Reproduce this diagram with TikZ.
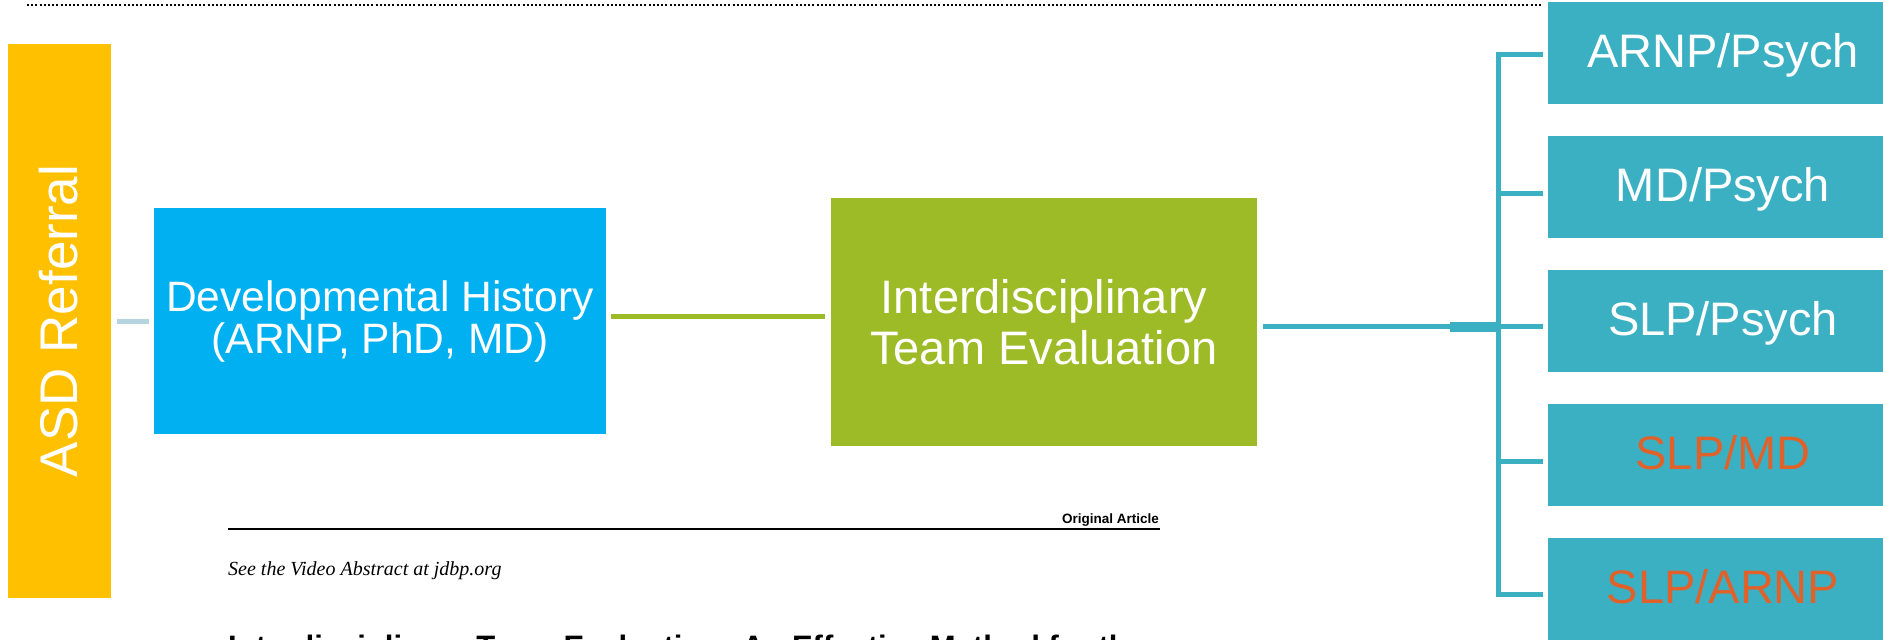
\documentclass[tikz,border=0pt]{standalone}
\usepackage{fontspec}
\setmainfont{Liberation Sans}
\newfontfamily\serifit{Liberation Serif}
\usetikzlibrary{calc}
\definecolor{asdyellow}{HTML}{FFC000}
\definecolor{devblue}{HTML}{00B0F0}
\definecolor{evalgreen}{HTML}{9DBB26}
\definecolor{teamteal}{HTML}{3BB0C3}
\definecolor{slporange}{HTML}{E0622A}
\definecolor{lightconn}{HTML}{B5D5DE}
\begin{document}
\begin{tikzpicture}[x=1pt,y=-1pt,
  panel/.style={draw=none, inner sep=0pt, outer sep=0pt, text=white, align=center},
  teambox/.style={panel, fill=teamteal, minimum width=350pt, minimum height=102pt,
    font=\fontsize{47}{50}\selectfont, text height=34pt, text depth=6pt},
  orangetext/.style={text=slporange},
  tealconn/.style={draw=teamteal, line width=5pt},
  greenconn/.style={draw=evalgreen, line width=5pt},
  paleconn/.style={draw=lightconn, line width=5pt},
  dotline/.style={draw=black, line width=2pt, dash pattern=on 2pt off 2.2pt}]
\useasboundingbox (0,0) rectangle (1883,640);
\clip (0,0) rectangle (1883,640);
\fill[white] (0,0) rectangle (1883,640);

% dotted rule at the top
\draw[dotline] (27,5) coordinate (d0) -- (1542,5) coordinate (d1);

% main boxes
\node[panel, fill=asdyellow, rotate=90, minimum width=554pt, minimum height=103pt,
  font=\fontsize{53}{60}\selectfont, text height=38pt, text depth=3pt] (asd) at (59.5,321) {ASD Referral};
\node[panel, fill=devblue, minimum width=452pt, minimum height=226pt,
  font=\fontsize{42.5}{42}\selectfont] (dev) at (380,321) {Developmental History\\(ARNP, PhD, MD)};
\node[panel, fill=evalgreen, minimum width=426pt, minimum height=248pt,
  font=\fontsize{47}{51}\selectfont] (eval) at (1044,322) {Interdisciplinary\\Team Evaluation};

% team boxes
\node[teambox] (r1) at (1723,53) {ARNP/Psych};
\node[teambox] (r2) at (1723,187) {MD/Psych};
\node[teambox] (r3) at (1723,321) {SLP/Psych};
\node[teambox, orangetext] (r4) at (1723,455) {SLP/MD};
\node[teambox, orangetext] (r5) at (1723,589) {SLP/ARNP};

% connectors
\draw[paleconn] ($(asd.south)+(6,0)$) -- ($(dev.west)+(-5,0)$);
\draw[greenconn] ($(dev.east)+(5,-5)$) -- ($(dev.east -| eval.west)+(-6,-5)$);

\coordinate (j1) at (1498,54);
\coordinate (j2) at (1498,193);
\coordinate (j3) at (1498,326);
\coordinate (j4) at (1498,461);
\coordinate (j5) at (1498,594);
\draw[tealconn] ($(j1 -| r1.west)+(-5,0)$) -- (j1) -- (j5) -- ($(j5 -| r5.west)+(-5,0)$);
\draw[tealconn] (j2) -- ($(j2 -| r2.west)+(-5,0)$);
\draw[tealconn] (j3) -- ($(j3 -| r3.west)+(-5,0)$);
\draw[tealconn] (j4) -- ($(j4 -| r4.west)+(-5,0)$);
\draw[tealconn] ($(eval.east)+(6,4)$) -- (j3);
\draw[tealconn, line width=10pt] ($(j3)+(-48,1)$) -- ($(j3)+(-2,1)$);

% article page fragment
\draw[line width=2pt] (228,529) coordinate (rl) -- (1160,529) coordinate (rr);
\node[font=\bfseries\fontsize{13.5}{15}\selectfont, anchor=base east, inner sep=0pt] (orig) at (1159,523) {Original Article};
\node[font=\serifit\itshape\fontsize{20}{22}\selectfont, anchor=base west, inner sep=0pt] (video) at (228,575) {See the Video Abstract at jdbp.org};
\node[font=\bfseries\fontsize{31}{34}\selectfont, anchor=base west, inner sep=0pt] (title) at (228,657) {Interdisciplinary Team Evaluation: An Effective Method for the};
\end{tikzpicture}
\end{document}
